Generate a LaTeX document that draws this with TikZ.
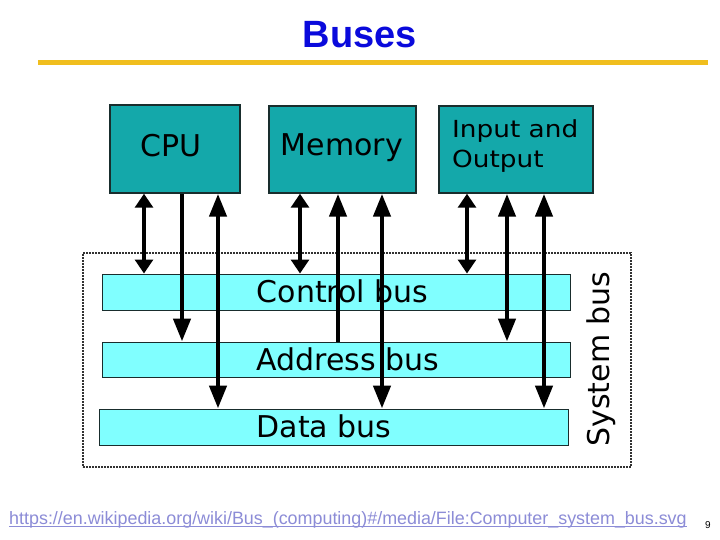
\documentclass[tikz,border=0pt]{standalone}
\usepackage{fontspec}
\usepackage{graphicx}
\usetikzlibrary{arrows.meta}
\newfontfamily\djv{DejaVu Sans}
\newfontfamily\libsans{Liberation Sans}
\definecolor{tealfill}{RGB}{20,168,170}
\definecolor{cyanfill}{RGB}{128,255,255}
\definecolor{boxline}{RGB}{25,45,45}
\definecolor{titleblue}{RGB}{10,10,220}
\definecolor{goldline}{RGB}{240,190,30}
\definecolor{linkcol}{RGB}{140,140,215}
\definecolor{dotcol}{RGB}{50,50,50}
\tikzset{
  procbox/.style={draw=boxline, line width=1.5pt, fill=tealfill, inner sep=0pt},
  busbar/.style={draw=boxline, line width=1pt, fill=cyanfill, inner sep=0pt},
  bigtext/.style={font=\djv\fontsize{30}{36}\selectfont, text=black, inner sep=0pt},
  iotext/.style={font=\djv\fontsize{23.5}{30}\selectfont, text=black, inner sep=0pt},
  thinbi/.style={line width=3.2pt, {Triangle[width=18pt,length=14pt]}-{Triangle[width=18pt,length=14pt]}},
  thickbi/.style={line width=4.5pt, {Triangle[width=17pt,length=23pt]}-{Triangle[width=17pt,length=23pt]}},
  thickone/.style={line width=4.5pt, -{Triangle[width=17pt,length=23pt]}}
}
\begin{document}
\begin{tikzpicture}[x=1pt,y=-1pt]
\useasboundingbox (0,0) rectangle (720,540);
\fill[white] (0,0) rectangle (720,540);
% title
\node[font=\libsans\bfseries\fontsize{38}{42}\selectfont, text=titleblue, anchor=base, inner sep=0pt] (title) at (360,48) {Buses};
\coordinate (gl) at (38,63);
\coordinate (gr) at (708,63);
\draw[goldline, line width=5pt] (gl) -- (gr);
% system bus frame
\node[draw=dotcol, dash pattern=on 1.6pt off 1.4pt, line width=1.1pt, minimum width=548pt, minimum height=214pt, inner sep=0pt] (sys) at (357,360) {};
% units
\node[procbox, minimum width=130pt, minimum height=88pt] (cpu) at (175,149) {};
\node[procbox, minimum width=147pt, minimum height=87pt] (mem) at (342.5,149.5) {};
\node[procbox, minimum width=154pt, minimum height=87pt] (io) at (516,149.5) {};
\node[bigtext, anchor=base] (cpulbl) at (171,157) {CPU};
\node[bigtext, anchor=base] (memlbl) at (342,156) {Memory};
\node[iotext, anchor=base west] (io1) at (452,138) {\scalebox{1.12}[1]{Input and}};
\node[iotext, anchor=base west] (io2) at (452,168) {\scalebox{1.12}[1]{Output}};
% buses
\node[busbar, minimum width=468pt, minimum height=36pt] (ctl) at (336,292) {};
\node[busbar, minimum width=468pt, minimum height=35pt] (adr) at (336,359.5) {};
\node[busbar, minimum width=469pt, minimum height=36pt] (dat) at (333.5,427) {};
% connector x positions
\coordinate (a1) at (144,0);
\coordinate (a2) at (182,0);
\coordinate (a3) at (218,0);
\coordinate (b1) at (300,0);
\coordinate (b2) at (338,0);
\coordinate (b3) at (382,0);
\coordinate (c1) at (467,0);
\coordinate (c2) at (507,0);
\coordinate (c3) at (544,0);
% CPU
\draw[thinbi] (cpu.south -| a1) -- (ctl.north -| a1);
\draw[thickone] (cpu.south -| a2) -- (adr.north -| a2);
\draw[thickbi] (cpu.south -| a3) -- (dat.north -| a3);
% Memory
\draw[thinbi] (mem.south -| b1) -- (ctl.north -| b1);
\draw[thickone] (adr.north -| b2) -- (mem.south -| b2);
\draw[thickbi] (mem.south -| b3) -- (dat.north -| b3);
% I/O
\draw[thinbi] (io.south -| c1) -- (ctl.north -| c1);
\draw[thickbi] (io.south -| c2) -- (adr.north -| c2);
\draw[thickbi] (io.south -| c3) -- (dat.north -| c3);
% bus labels
\node[bigtext, anchor=base west] (ctllbl) at (256.5,302.5) {Control bus};
\node[bigtext, anchor=base west] (adrlbl) at (256.5,370) {Address bus};
\node[bigtext, anchor=base west] (datlbl) at (256.5,437.5) {Data bus};
\node[bigtext, rotate=90] (syslbl) at (601,359) {System bus};
% footer
\node[font=\libsans\fontsize{17.9}{20}\selectfont, text=linkcol, anchor=base west, inner sep=0pt] (link) at (9,524) {https://en.wikipedia.org/wiki/Bus\_(computing)\#/media/File:Computer\_system\_bus.svg};
\draw[linkcol, line width=1pt] ([yshift=-2pt]link.base west) -- ([yshift=-2pt]link.base east);
\node[font=\libsans\fontsize{10}{12}\selectfont, text=black, anchor=base, inner sep=0pt] (pagenum) at (708,528) {9};
\end{tikzpicture}
\end{document}
